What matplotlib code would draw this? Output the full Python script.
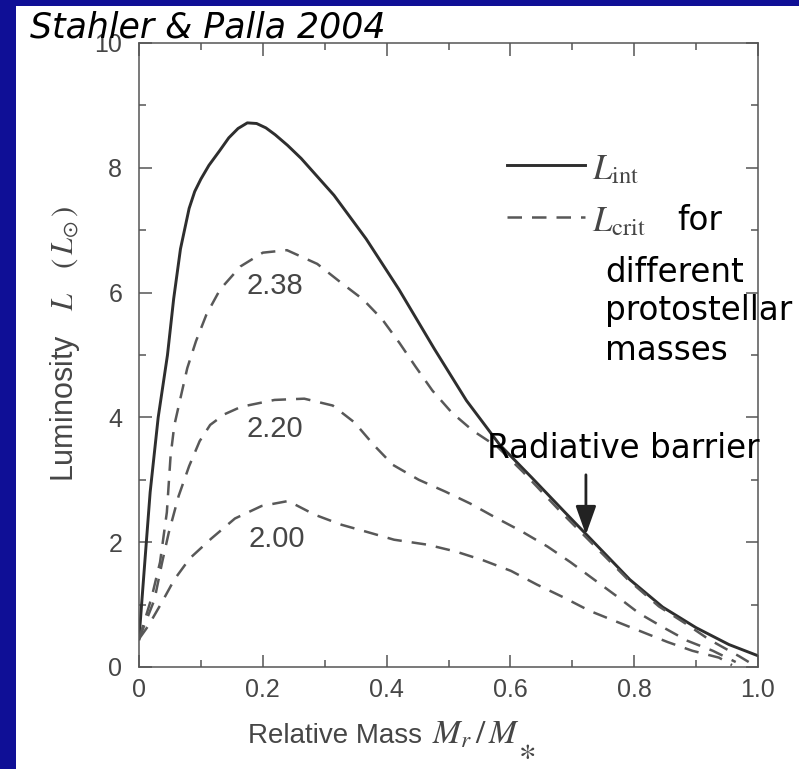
import matplotlib
matplotlib.use('Agg')
import matplotlib.pyplot as plt
from matplotlib.patches import Rectangle
from matplotlib.ticker import MultipleLocator, FixedLocator, FixedFormatter

# internal luminosity L_int vs relative mass
m_int = [0.0, 0.008, 0.018, 0.031, 0.046, 0.056, 0.067, 0.081, 0.09, 0.10, 0.113,
         0.13, 0.145, 0.16, 0.175, 0.19, 0.205, 0.22, 0.24, 0.262, 0.315, 0.367,
         0.42, 0.477, 0.529, 0.582, 0.635, 0.688, 0.725, 0.793, 0.846, 0.90, 0.953, 1.0]
L_int = [0.45, 1.5, 2.8, 4.0, 5.0, 5.9, 6.7, 7.35, 7.62, 7.82, 8.04,
         8.27, 8.48, 8.63, 8.72, 8.71, 8.64, 8.53, 8.36, 8.15, 7.56, 6.86,
         6.05, 5.1, 4.27, 3.57, 3.03, 2.48, 2.10, 1.40, 0.96, 0.63, 0.36, 0.18]

# critical luminosity for M* = 2.38
m_238 = [0.0, 0.02, 0.034, 0.045, 0.051, 0.057, 0.067, 0.078, 0.092, 0.109, 0.131,
         0.164, 0.20, 0.239, 0.288, 0.325, 0.362, 0.393, 0.421, 0.447, 0.474, 0.505,
         0.539, 0.58, 0.62, 0.68, 0.72, 0.79, 0.84, 0.884, 0.921, 0.97, 0.99]
L_238 = [0.45, 1.1, 1.68, 2.48, 3.38, 3.87, 4.31, 4.79, 5.22, 5.65, 6.05,
         6.42, 6.64, 6.68, 6.46, 6.17, 5.89, 5.57, 5.19, 4.81, 4.43, 4.08,
         3.79, 3.52, 3.13, 2.50, 2.10, 1.40, 0.97, 0.69, 0.44, 0.17, 0.05]

# critical luminosity for M* = 2.20
m_220 = [0.0, 0.025, 0.037, 0.048, 0.064, 0.081, 0.098, 0.115, 0.138, 0.165, 0.219,
         0.267, 0.313, 0.348, 0.38, 0.41, 0.452, 0.495, 0.535, 0.575, 0.617, 0.66,
         0.697, 0.734, 0.771, 0.808, 0.846, 0.886, 0.927, 0.964]
L_220 = [0.45, 1.08, 1.66, 2.15, 2.74, 3.22, 3.62, 3.88, 4.05, 4.17, 4.28,
         4.3, 4.19, 3.92, 3.55, 3.24, 3.0, 2.81, 2.62, 2.40, 2.18, 1.93,
         1.68, 1.41, 1.14, 0.86, 0.64, 0.42, 0.26, 0.08]

# critical luminosity for M* = 2.00
m_200 = [0.0, 0.015, 0.036, 0.057, 0.082, 0.117, 0.155, 0.198, 0.241, 0.284, 0.327,
         0.37, 0.412, 0.466, 0.512, 0.556, 0.601, 0.643, 0.685, 0.728, 0.768, 0.811,
         0.854, 0.894, 0.937, 0.958]
L_200 = [0.45, 0.66, 1.02, 1.40, 1.74, 2.06, 2.38, 2.58, 2.66, 2.44, 2.28,
         2.16, 2.04, 1.96, 1.85, 1.71, 1.54, 1.32, 1.12, 0.90, 0.74, 0.57,
         0.40, 0.26, 0.15, 0.03]

mass_labels = ['2.38', '2.20', '2.00']
label_pos = [(0.22, 6.1), (0.22, 3.82), (0.222, 2.05)]

x_ticks = [0, 0.2, 0.4, 0.6, 0.8, 1.0]
x_ticklabels = ['0', '0.2', '0.4', '0.6', '0.8', '1.0']
y_ticks = [0, 2, 4, 6, 8, 10]
y_ticklabels = ['0', '2', '4', '6', '8', '10']

W, H = 799, 769
ink = '#464646'
solid_c = '#2e2e2e'
dash_c = '#585858'

plt.rcParams['font.family'] = 'Liberation Sans'
plt.rcParams['mathtext.fontset'] = 'stix'


def fpos(x, y):
    # pixel position -> figure fraction
    return x / W, 1 - y / H


fig = plt.figure(figsize=(W / 100, H / 100), dpi=100, facecolor='#0f0f96')
fig.patches.append(Rectangle((16 / W, 0), 1 - 16 / W, 1 - 6 / H, transform=fig.transFigure,
                             facecolor='white', edgecolor='none', zorder=-10))

ax = fig.add_axes([139 / W, 1 - 667 / H, (758 - 139) / W, (667 - 43) / H])
ax.set_xlim(0, 1)
ax.set_ylim(0, 10)

ax.plot(m_int, L_int, color=solid_c, lw=2.1, solid_joinstyle='round')
for m, L in [(m_238, L_238), (m_220, L_220), (m_200, L_200)]:
    ax.plot(m, L, color=dash_c, lw=1.8, dashes=(5.8, 4.0))

for lab, (x, y) in zip(mass_labels, label_pos):
    ax.text(x, y, lab, ha='center', va='center', fontsize=21, color=ink)

# legend drawn by hand
ax.plot([0.595, 0.72], [8.05, 8.05], color=solid_c, lw=2.1)
ax.plot([0.595, 0.72], [7.21, 7.21], color=dash_c, lw=1.8, dashes=(5.8, 4.0))
ax.text(0.732, 7.82, r'$L_{\rm int}$', fontsize=25, color=ink, va='baseline')
ax.text(0.732, 6.98, r'$L_{\rm crit}$', fontsize=25, color=ink, va='baseline')

for s in ax.spines.values():
    s.set_color('#555555')
    s.set_linewidth(1.1)

ax.xaxis.set_major_locator(FixedLocator(x_ticks))
ax.xaxis.set_major_formatter(FixedFormatter(x_ticklabels))
ax.yaxis.set_major_locator(FixedLocator(y_ticks))
ax.yaxis.set_major_formatter(FixedFormatter(y_ticklabels))
ax.xaxis.set_minor_locator(MultipleLocator(0.1))
ax.yaxis.set_minor_locator(MultipleLocator(1))
ax.tick_params(which='both', direction='in', top=True, right=True,
               color='#555555', width=1.1, labelcolor=ink, labelsize=18)
ax.tick_params(which='major', length=9)
ax.tick_params(which='minor', length=5)
ax.tick_params(axis='x', pad=8)
ax.tick_params(axis='y', pad=12)

# axis titles
fig.text(*fpos(65, 344), r'Luminosity   $L$   $(\,L_{\odot}\,)$', rotation=90,
         ha='center', va='center', fontsize=22, color=ink)
fig.text(*fpos(248, 743), 'Relative Mass', ha='left', va='baseline', fontsize=20, color=ink)
fig.text(*fpos(432, 743), r'$M_r\,/\,M$', ha='left', va='baseline', fontsize=24, color=ink)
fig.text(*fpos(518, 759), r'$\ast$', ha='left', va='baseline', fontsize=24, color=ink)

# slide annotations
note = dict(family='DejaVu Sans', color='black', va='baseline', ha='left')
fig.text(*fpos(30, 38), 'Stahler & Palla 2004', fontsize=25, style='italic', **note)
fig.text(*fpos(677, 230), 'for', fontsize=23.5, **note)
fig.text(*fpos(605, 282), 'different', fontsize=23.5, **note)
fig.text(*fpos(605, 320), 'protostellar', fontsize=23.5, **note)
fig.text(*fpos(605, 360), 'masses', fontsize=23.5, **note)
fig.text(*fpos(487, 458), 'Radiative barrier', fontsize=23.5, **note)

ax.annotate('', xy=(0.722, 2.12), xytext=(0.722, 3.08),
            arrowprops=dict(arrowstyle='-|>,head_length=0.7,head_width=0.25',
                            color='#222222', lw=2, mutation_scale=25, shrinkA=0, shrinkB=0))

fig.savefig('out.png', dpi=100, facecolor=fig.get_facecolor())
